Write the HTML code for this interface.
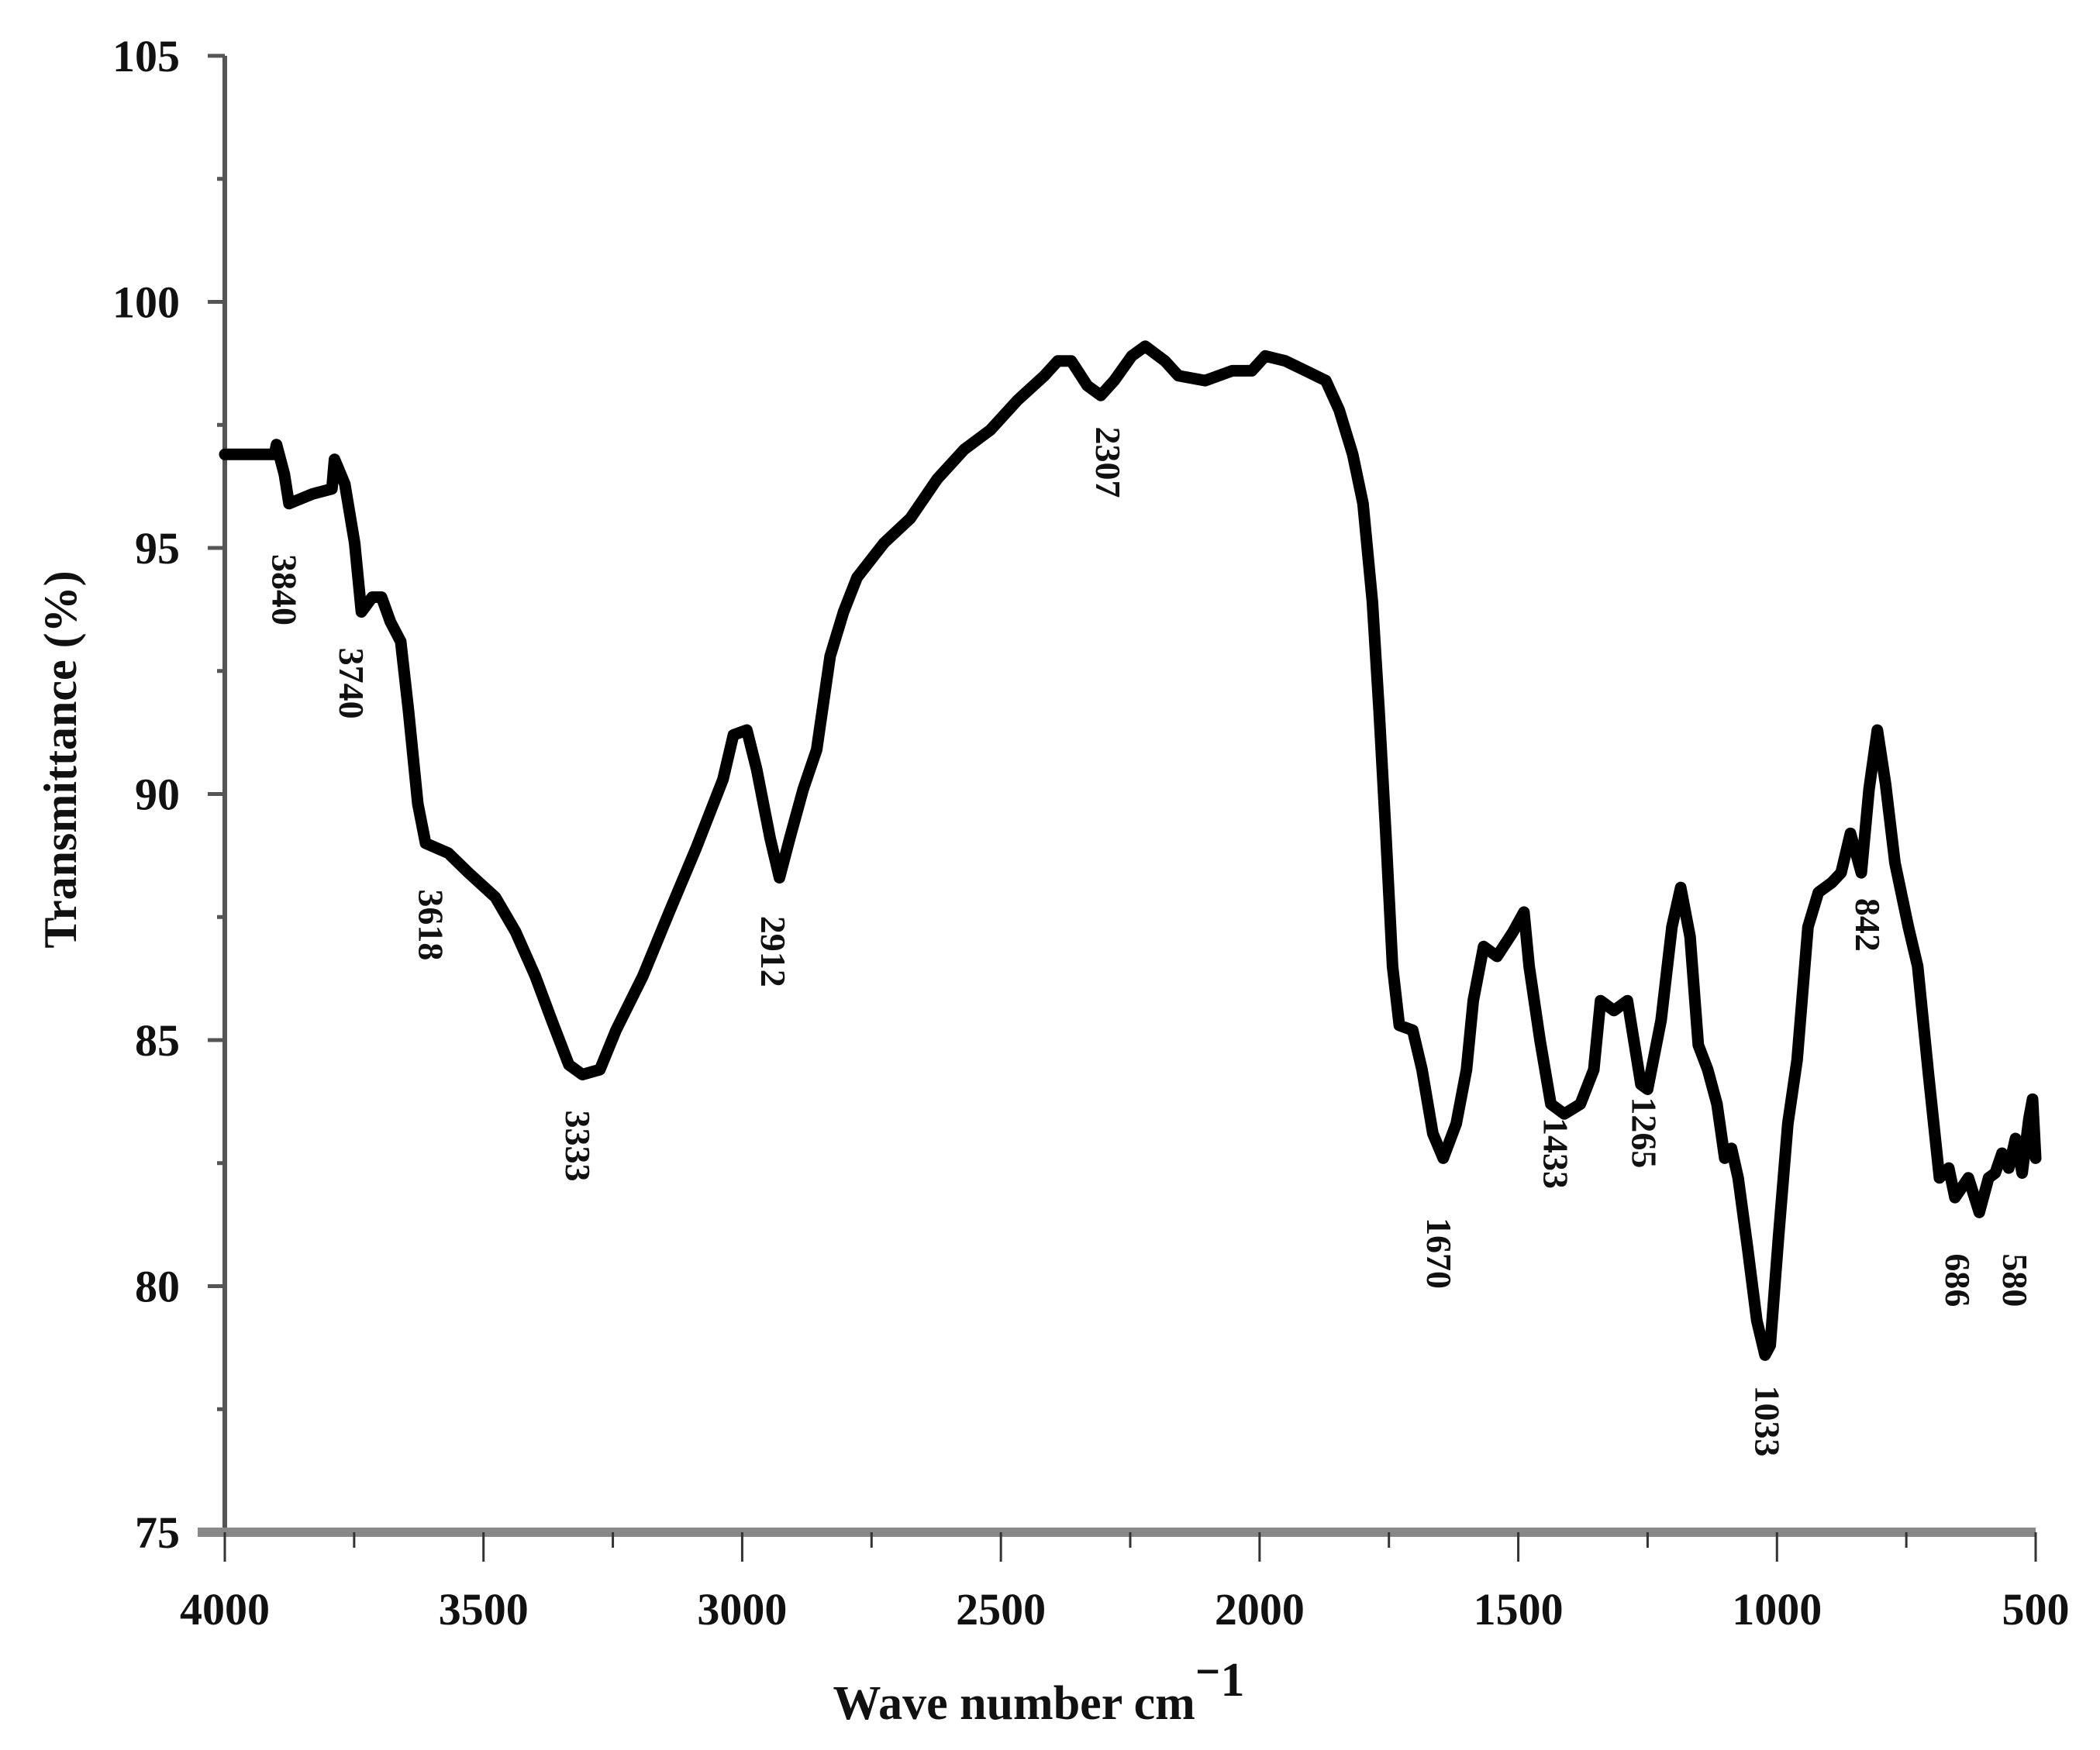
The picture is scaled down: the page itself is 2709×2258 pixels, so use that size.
<!DOCTYPE html>
<html><head><meta charset="utf-8"><style>
html,body{margin:0;padding:0;background:#fff;}
svg{display:block;}
text{font-family:"Liberation Serif",serif;font-weight:bold;fill:#111;}
</style></head><body>
<svg id="chart" width="2709" height="2258" viewBox="0 0 2709 2258" xmlns="http://www.w3.org/2000/svg">
<g id="axes"></g>
<g id="series"></g>
<g id="peaks"></g>
<text x="1340" y="2218" font-size="62" text-anchor="middle">Wave number cm<tspan dy="-30">⁻</tspan><tspan>1</tspan></text>
<text transform="translate(98,980) rotate(-90)" font-size="60" text-anchor="middle">Transmittance (%)</text>
</svg>
<script>
const xTicks=[4000,3500,3000,2500,2000,1500,1000,500];
const yTicks=[105,100,95,90,85,80,75];
const wn=[4000,3904,3900,3885,3876,3830,3793,3788,3768,3749,3736,3715,3697,3680,3660,3645,3627,3612,3568,3529,3477,3438,3400,3368,3335,3309,3275,3244,3192,3141,3089,3037,3017,2991,2972,2946,2928,2908,2882,2856,2830,2804,2778,2726,2675,2623,2571,2520,2468,2416,2390,2364,2333,2307,2281,2247,2221,2183,2157,2105,2053,2015,1989,1950,1911,1872,1846,1820,1800,1782,1769,1756,1743,1730,1704,1686,1665,1645,1620,1600,1587,1567,1541,1510,1489,1479,1458,1437,1411,1380,1354,1341,1315,1289,1263,1250,1224,1203,1186,1168,1152,1134,1116,1101,1088,1075,1057,1039,1023,1013,997,979,961,940,920,894,876,858,837,822,806,790,772,746,728,707,686,668,656,643,630,609,591,578,565,552,539,526,513,506,500];
const trans=[96.9,96.9,97.1,96.5,95.9,96.1,96.2,96.8,96.3,95.1,93.7,94.0,94.0,93.5,93.1,91.7,89.8,89.0,88.8,88.4,87.9,87.2,86.3,85.4,84.5,84.3,84.4,85.2,86.3,87.6,88.9,90.3,91.2,91.3,90.5,89.1,88.3,89.1,90.1,90.9,92.8,93.7,94.4,95.1,95.6,96.4,97.0,97.4,98.0,98.5,98.8,98.8,98.3,98.1,98.4,98.9,99.1,98.8,98.5,98.4,98.6,98.6,98.9,98.8,98.6,98.4,97.8,96.9,95.9,93.9,91.7,89.2,86.5,85.3,85.2,84.4,83.1,82.6,83.3,84.4,85.8,86.9,86.7,87.2,87.6,86.5,85.0,83.7,83.5,83.7,84.4,85.8,85.6,85.8,84.1,84.0,85.4,87.3,88.1,87.1,84.9,84.4,83.7,82.6,82.8,82.2,80.8,79.3,78.6,78.8,81.0,83.3,84.6,87.3,88.0,88.2,88.4,89.2,88.4,90.1,91.3,90.2,88.6,87.3,86.5,84.3,82.2,82.4,81.8,82.0,82.2,81.5,82.2,82.3,82.7,82.4,83.0,82.3,83.4,83.8,82.6];
const peakLabels=["3840","3740","3618","3333","2912","2307","1670","1433","1265","1033","842","686","580"];
const peakX=[3884,3754,3601,3317,2939,2292,1652,1427,1256,1018,824,650,539];
const peakY=[94.15,92.25,87.34,82.85,86.8,96.74,80.67,82.7,83.12,77.26,87.34,80.12,80.12];

const X0=290,X1=2626,Y0=1977,Y1=72;
const sx=v=>X0+(4000-v)/3500*(X1-X0);
const sy=v=>Y0-(v-75)/30*(Y0-Y1);
const NS="http://www.w3.org/2000/svg";
function mk(tag,attrs,parent){const e=document.createElementNS(NS,tag);for(const k in attrs)e.setAttribute(k,attrs[k]);parent.appendChild(e);return e;}
const axes=document.getElementById('axes');
let yl=mk('line',{x1:X0,y1:Y1,x2:X0,y2:Y0,stroke:'#555','stroke-width':6},axes);


for(let v=75;v<=105;v+=2.5){
  const major=(v%5===0);
  const t=mk('line',{x1:major?X0-22:X0-10,x2:X0,y1:sy(v),y2:sy(v),stroke:'#555','stroke-width':5},axes);
  
  
}
yTicks.forEach(v=>{
  const t=mk('text',{x:232,y:sy(v)+20,'font-size':58,'text-anchor':'end'},axes);
  t.textContent=v;
  
  
});
let xl=mk('line',{x1:X0-35,y1:Y0,x2:X1,y2:Y0,stroke:'#888','stroke-width':12},axes);


for(let v=4000;v>=500;v-=250){
  const major=(v%500===0);
  const t=mk('line',{x1:sx(v),x2:sx(v),y1:Y0,y2:major?Y0+38:Y0+20,stroke:'#333','stroke-width':3},axes);
  
  
}
xTicks.forEach(v=>{
  const t=mk('text',{x:sx(v),y:2096,'font-size':58,'text-anchor':'middle'},axes);
  t.textContent=v;
  
  
});
const series=document.getElementById('series');
const d=wn.map((w,i)=>(i?'L':'M')+sx(w).toFixed(1)+','+sy(trans[i]).toFixed(1)).join(' ');
const p=mk('path',{d:d,fill:'none',stroke:'#000','stroke-width':15,'stroke-linejoin':'round','stroke-linecap':'round'},series);


const peaks=document.getElementById('peaks');
peakLabels.forEach((s,i)=>{
  const x=sx(peakX[i]),y=sy(peakY[i]);
  const t=mk('text',{transform:`translate(${x},${y}) rotate(90)`,'font-size':46,'text-anchor':'middle',dy:16},peaks);
  t.textContent=s;
  
  
});
</script>
</body></html>
